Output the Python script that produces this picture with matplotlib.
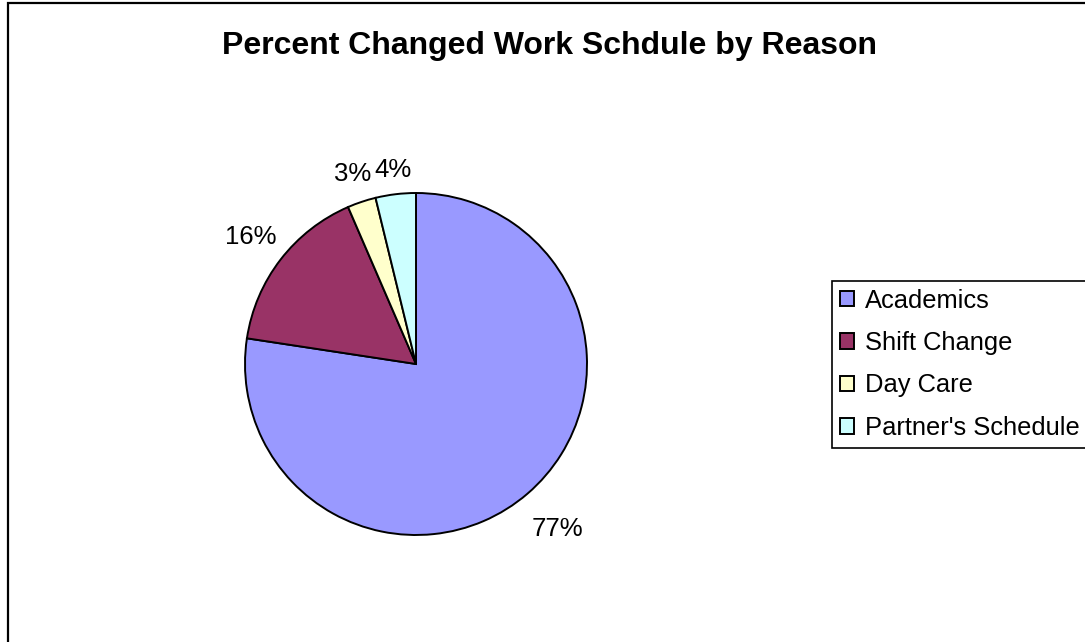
import numpy as np
import matplotlib.pyplot as plt
from matplotlib.patches import Rectangle

plt.rcParams['font.family'] = ['Liberation Sans', 'DejaVu Sans']

reasons = ['Academics', 'Shift Change', 'Day Care', "Partner's Schedule"]
percents = [77.4, 16.1, 2.7, 3.8]
colors = ['#9999FF', '#993366', '#FFFFCC', '#CCFFFF']
# how far out each percent label sits, in pie radii (Excel style)
label_dist = [1.27, 1.22, 1.17, 1.14]

W, H = 1085, 642
fig = plt.figure(figsize=(W / 100, H / 100), dpi=100)

# outer chart frame, runs off the right and bottom edges
fig.patches.append(Rectangle((7.5 / W, -0.05), 1.2, 1 - 2.5 / H + 0.05,
                             transform=fig.transFigure, fill=False,
                             edgecolor='black', linewidth=1.6))

# pie centred at (416, 364) px with radius 171 px
cx, cy, r = 416, 364, 171
ax = fig.add_axes([(cx - r) / W, (H - cy - r) / H, 2 * r / W, 2 * r / H])
wedges, texts, autotexts = ax.pie(
    percents, colors=colors, startangle=90, counterclock=False,
    autopct='%.0f%%', pctdistance=1.22,
    wedgeprops=dict(edgecolor='black', linewidth=1.4),
    textprops=dict(fontsize=18.5, color='black'))
for w, t, d in zip(wedges, autotexts, label_dist):
    w.set_clip_on(False)
    mid = np.deg2rad((w.theta1 + w.theta2) / 2)
    t.set_position((d * np.cos(mid), d * np.sin(mid)))
ax.set_xlim(-1, 1)
ax.set_ylim(-1, 1)
ax.set_aspect('equal')

fig.text(550 / W, 1 - 54.3 / H, 'Percent Changed Work Schdule by Reason',
         ha='center', va='baseline', fontsize=23, fontweight='bold')

leg = fig.legend(wedges, reasons, loc='upper left',
                 bbox_to_anchor=(832 / W, 1 - 281 / H),
                 fontsize=18.4, frameon=True, fancybox=False,
                 edgecolor='black', framealpha=1,
                 handlelength=0.55, handleheight=0.55, handletextpad=0.45,
                 labelspacing=0.72, borderpad=0.3, borderaxespad=0)
leg.get_frame().set_linewidth(1.2)

fig.savefig('out.png', dpi=100)
